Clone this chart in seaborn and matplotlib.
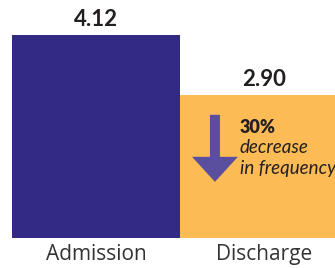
import matplotlib
matplotlib.use("Agg")
import matplotlib.pyplot as plt
import seaborn as sns

# Data
stages = ["Admission", "Discharge"]
frequency = [4.12, 2.90]
bar_colors = ["#332a85", "#fdbb55"]
change_pct = "30%"
change_text = ["decrease", "in frequency"]

sns.set_style("white")
plt.rcParams['font.family'] = ['Lato', 'DejaVu Sans']

fig = plt.figure(figsize=(3.35, 2.68), dpi=100)
ax = fig.add_axes([0, 30 / 268, 1, 238 / 268])

sns.barplot(x=stages, y=frequency, hue=stages, palette=bar_colors,
            width=1.0, saturation=1, legend=False, linewidth=0, ax=ax)

ax.set_xlim(-0.5 - 12 / 168, (335 - 12) / 168 - 0.5)
ax.set_ylim(0, 238 / (203 / 4.12))
sns.despine(ax=ax, left=True, bottom=True)
ax.set_yticks([])
ax.tick_params(axis="x", length=0, pad=4, labelsize=15, labelcolor="#333333")
for lbl in ax.get_xticklabels():
    lbl.set_fontfamily(['Open Sans', 'DejaVu Sans'])
ax.set_xlabel("")
ax.set_ylabel("")

# Value labels above bars
for i, v in enumerate(frequency):
    ax.annotate(f"{v:.2f}", (i, v), xytext=(0, 3.5), textcoords="offset points",
                ha="center", va="bottom", fontsize=16, fontweight="bold",
                color="#231f20")

# Decrease arrow and annotation on the discharge bar
ax.annotate("", xy=(0.708, 1.14), xytext=(0.708, 2.5),
            arrowprops=dict(facecolor="#5a4f9f", edgecolor="none",
                            width=7.2, headwidth=33, headlength=18))
ax.text(0.857, 2.14, change_pct, fontsize=13, fontweight="heavy",
        color="#231f20", ha="left", va="baseline")
ax.text(0.857, 1.73, change_text[0], fontsize=13.5, style="italic",
        color="#231f20", ha="left", va="baseline")
ax.text(0.857, 1.30, change_text[1], fontsize=13.5, style="italic",
        color="#231f20", ha="left", va="baseline")

fig.savefig("out.png", dpi=100)
